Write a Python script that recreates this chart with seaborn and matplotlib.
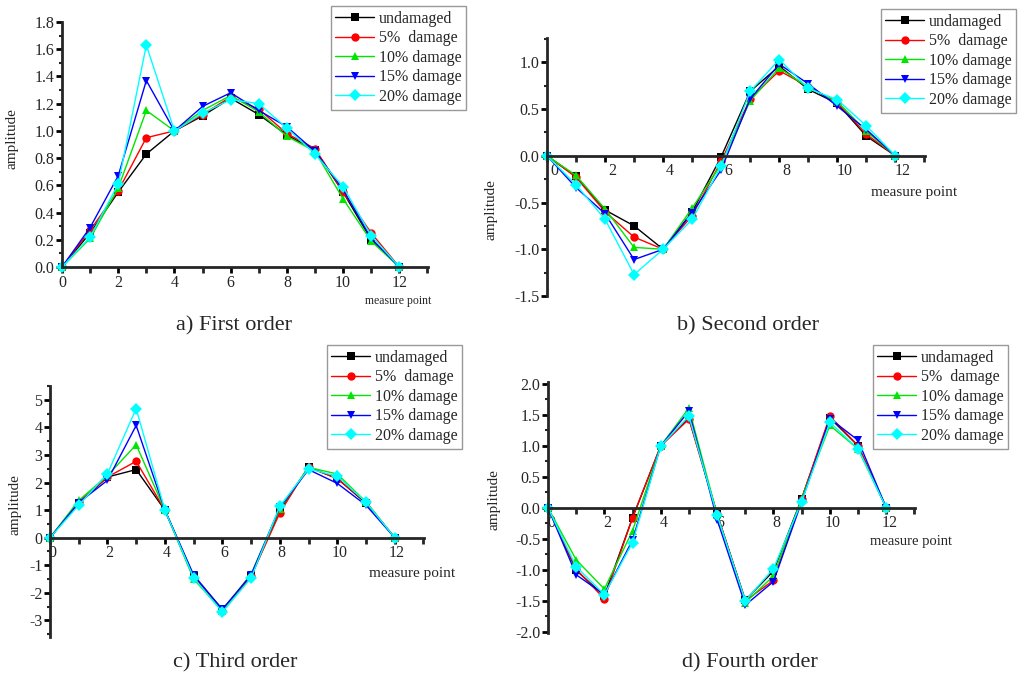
import numpy as np
import pandas as pd
import seaborn as sns
import matplotlib.pyplot as plt
from matplotlib.ticker import MultipleLocator, FormatStrFormatter
from matplotlib.transforms import ScaledTranslation

points = list(range(13))
cases = ['undamaged', '5%  damage', '10% damage', '15% damage', '20% damage']

# a) first order
first_undamaged = [0, 0.25, 0.55, 0.83, 1.0, 1.11, 1.24, 1.12, 0.97, 0.86, 0.55, 0.20, 0]
first_5 = [0, 0.27, 0.56, 0.95, 1.0, 1.12, 1.25, 1.16, 0.98, 0.87, 0.55, 0.25, 0]
first_10 = [0, 0.21, 0.58, 1.15, 1.0, 1.15, 1.26, 1.14, 0.96, 0.85, 0.50, 0.19, 0]
first_15 = [0, 0.29, 0.67, 1.37, 1.0, 1.18, 1.28, 1.15, 1.03, 0.85, 0.57, 0.21, 0]
first_20 = [0, 0.22, 0.61, 1.63, 1.0, 1.13, 1.23, 1.20, 1.02, 0.83, 0.59, 0.23, 0]

# b) second order
second_undamaged = [0, -0.22, -0.58, -0.75, -1.0, -0.60, -0.01, 0.69, 0.96, 0.71, 0.56, 0.21, 0]
second_5 = [0, -0.23, -0.60, -0.87, -1.0, -0.64, -0.06, 0.61, 0.91, 0.74, 0.57, 0.23, 0]
second_10 = [0, -0.21, -0.57, -0.98, -1.0, -0.56, -0.09, 0.59, 0.94, 0.73, 0.58, 0.26, 0]
second_15 = [0, -0.34, -0.62, -1.11, -1.0, -0.61, -0.15, 0.61, 0.98, 0.77, 0.53, 0.28, 0]
second_20 = [0, -0.31, -0.68, -1.27, -1.0, -0.68, -0.11, 0.69, 1.03, 0.72, 0.60, 0.32, 0]

# c) third order
third_undamaged = [0, 1.25, 2.2, 2.47, 1.0, -1.40, -2.60, -1.40, 1.0, 2.55, 2.15, 1.25, 0]
third_5 = [0, 1.3, 2.2, 2.77, 1.0, -1.45, -2.65, -1.40, 0.90, 2.58, 2.13, 1.30, 0]
third_10 = [0, 1.35, 2.25, 3.37, 1.0, -1.50, -2.65, -1.32, 1.05, 2.55, 2.31, 1.30, 0]
third_15 = [0, 1.27, 2.08, 4.07, 1.0, -1.35, -2.60, -1.35, 1.10, 2.47, 1.97, 1.18, 0]
third_20 = [0, 1.18, 2.32, 4.68, 1.0, -1.45, -2.70, -1.46, 1.14, 2.50, 2.23, 1.29, 0]

# d) fourth order
fourth_undamaged = [0, -1.01, -1.42, -0.16, 1.0, 1.45, -0.10, -1.49, -1.02, 0.15, 1.45, 1.00, 0]
fourth_5 = [0, -0.99, -1.47, -0.16, 1.0, 1.43, -0.10, -1.50, -1.17, 0.15, 1.48, 1.00, 0]
fourth_10 = [0, -0.84, -1.31, -0.37, 1.0, 1.61, -0.12, -1.53, -1.10, 0.15, 1.33, 0.95, 0]
fourth_15 = [0, -1.08, -1.40, -0.52, 1.0, 1.56, -0.19, -1.57, -1.19, 0.10, 1.44, 1.09, 0]
fourth_20 = [0, -0.95, -1.40, -0.56, 1.0, 1.48, -0.12, -1.50, -0.98, 0.10, 1.38, 0.95, 0]

orders = {
    'a': [first_undamaged, first_5, first_10, first_15, first_20],
    'b': [second_undamaged, second_5, second_10, second_15, second_20],
    'c': [third_undamaged, third_5, third_10, third_15, third_20],
    'd': [fourth_undamaged, fourth_5, fourth_10, fourth_15, fourth_20],
}
captions = {'a': 'a) First order', 'b': 'b) Second order',
            'c': 'c) Third order', 'd': 'd) Fourth order'}

palette = dict(zip(cases, ['black', '#ff0000', '#00e600', '#0000ff', '#00ffff']))
markers = dict(zip(cases, ['s', 'o', '^', 'v', 'D']))

sns.set_style('ticks')
plt.rcParams['font.family'] = ['Liberation Serif', 'DejaVu Serif']

W, H = 1032, 674
fig = plt.figure(figsize=(W / 100, H / 100), dpi=100)


def px_rect(left, top, right, bottom):
    return [left / W, 1 - bottom / H, (right - left) / W, (bottom - top) / H]


# panel geometry in pixels: left, top, right, bottom; limits; tick steps
panels = {
    'a': dict(rect=px_rect(62, 22, 428, 267), ylim=(0, 1.8), major=0.2, minor=0.1, fmt='%.1f',
              legend=(466, 6), xlab=(398, 301, 8.5), ylab=(12, 139), cap=(234, 326), shift=0),
    'b': dict(rect=px_rect(547, 38, 925, 296), ylim=(-1.5, 1.26), major=0.5, minor=0.25, fmt='%.1f',
              legend=(1016, 9), xlab=(914, 193, 11), ylab=(491, 210), cap=(748, 326), shift=7),
    'c': dict(rect=px_rect(50, 386, 424, 637), ylim=(-3.6, 5.5), major=1, minor=0.5, fmt='%d',
              legend=(462, 345), xlab=(412, 573, 11), ylab=(15, 505), cap=(235, 663), shift=2),
    'd': dict(rect=px_rect(548, 382, 915, 633), ylim=(-2.02, 2.03), major=0.5, minor=0.25, fmt='%.1f',
              legend=(1008, 345), xlab=(911, 542, 10.5), ylab=(494, 500), cap=(750, 663), shift=3),
}

for key, p in panels.items():
    ax = fig.add_axes(p['rect'])
    rows = []
    for case, vals in zip(cases, orders[key]):
        for x, v in zip(points, vals):
            rows.append({'point': x, 'amp': v, 'case': case})
    df = pd.DataFrame(rows)
    sns.lineplot(data=df, x='point', y='amp', hue='case', style='case',
                 palette=palette, markers=markers, dashes=False, errorbar=None,
                 markersize=6, linewidth=1, markeredgewidth=0, ax=ax)
    for line in ax.lines:
        line.set_clip_on(False)

    ax.set_xlim(0, 13.02)
    ax.set_ylim(*p['ylim'])
    ax.xaxis.set_major_locator(MultipleLocator(2))
    ax.xaxis.set_minor_locator(MultipleLocator(1))
    ax.yaxis.set_major_locator(MultipleLocator(p['major']))
    ax.yaxis.set_minor_locator(MultipleLocator(p['minor']))
    ax.yaxis.set_major_formatter(FormatStrFormatter(p['fmt']))
    ax.set_xlabel('')
    ax.set_ylabel('')

    for side in ['top', 'right']:
        ax.spines[side].set_visible(False)
    for side in ['left', 'bottom']:
        ax.spines[side].set_linewidth(2)
    if key != 'a':
        ax.spines['bottom'].set_position(('data', 0))

    ax.tick_params(axis='both', which='major', direction='out', length=4, width=2,
                   labelsize=11.5, pad=1.5, color='black')
    ax.tick_params(axis='y', which='minor', direction='out', length=2, width=1.5)
    ax.tick_params(axis='x', which='minor', direction='out', length=4, width=2)
    if p['shift']:
        off = ScaledTranslation(p['shift'] / 100, 0, fig.dpi_scale_trans)
        for lab in ax.get_xticklabels():
            lab.set_transform(lab.get_transform() + off)

    old = ax.get_legend()
    handles = old.legend_handles
    labels = [t.get_text() for t in old.get_texts()]
    old.remove()
    for h in handles:
        h.set_markeredgewidth(0)
        h.set_linewidth(1)
    lx, ly = p['legend']
    leg = ax.legend(handles, labels, loc='upper right', bbox_to_anchor=(lx / W, 1 - ly / H),
                    bbox_transform=fig.transFigure, borderaxespad=0, fontsize=11.5,
                    frameon=True, fancybox=False, framealpha=1, edgecolor='#999999',
                    handlelength=2.4, handletextpad=0.3, labelspacing=0.22, borderpad=0.3)
    leg.get_frame().set_linewidth(1)

    tx, ty, ts = p['xlab']
    fig.text(tx / W, 1 - ty / H, 'measure point', ha='center', va='center', fontsize=ts)
    yx, yy = p['ylab']
    fig.text(yx / W, 1 - yy / H, 'amplitude', ha='center', va='center', rotation=90, fontsize=11)
    cx, cy = p['cap']
    fig.text(cx / W, 1 - cy / H, captions[key], ha='center', va='center', fontsize=16)

fig.savefig('out.png', dpi=100)
